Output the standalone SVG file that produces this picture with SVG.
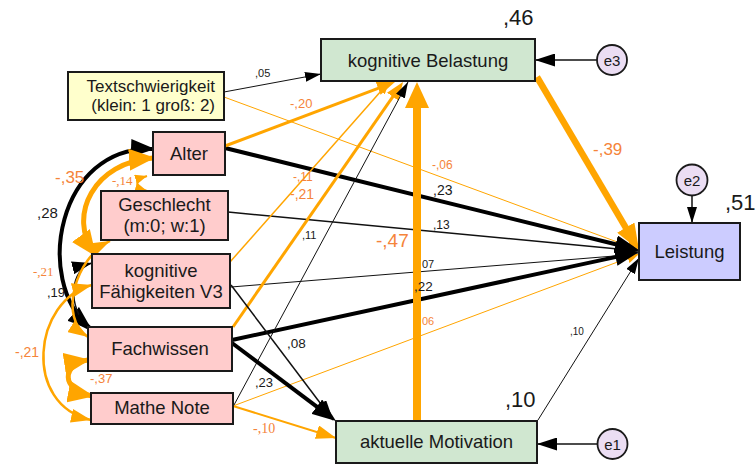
<svg xmlns="http://www.w3.org/2000/svg" width="756" height="466" viewBox="0 0 756 466">
<style>
.box{stroke:#1a1a1a;stroke-width:2}
.pink{fill:#FFCCCC}
.yel{fill:#FFFFCC}
.grn{fill:#D0E7D0}
.blu{fill:#CCCCFF}
.err{fill:#EBDDF3;stroke:#1a1a1a;stroke-width:1.8}
.n{font-family:"Liberation Sans",Arial,sans-serif;font-size:18.5px;fill:#1a1a1a;text-anchor:middle}
.ts{font-family:"Liberation Sans",Arial,sans-serif;font-size:17px;fill:#1a1a1a;text-anchor:end}
.e{font-family:"Liberation Sans",Arial,sans-serif;font-size:15px;fill:#1a1a1a;text-anchor:middle}
.l{font-family:"Liberation Sans",Arial,sans-serif;fill:#1a1a1a}
.lo{font-family:"Liberation Sans",Arial,sans-serif;fill:#F5843A}
.so{font-family:"Liberation Serif","Times New Roman",serif;fill:#F5843A}
.big{font-family:"Liberation Sans",Arial,sans-serif;font-size:22px;fill:#1a1a1a}
#connectors path{fill:none}
.k1{stroke:#111;stroke-width:1}
.k15{stroke:#111;stroke-width:1.5}
.k4{stroke:#000;stroke-width:4}
.o1{stroke:#FFA500;stroke-width:1}
.o15{stroke:#FFA500;stroke-width:1.5}
.o2{stroke:#FFA500;stroke-width:2}
.o25{stroke:#FFA500;stroke-width:2.5}
.o3{stroke:#FFA500;stroke-width:3}
.o4{stroke:#FFA500;stroke-width:4}
.o5{stroke:#FFA500;stroke-width:5}
.o6{stroke:#FFA500;stroke-width:6.5}
.o8{stroke:#FFA500;stroke-width:8}
.hk{fill:#000}
.ho{fill:#FFA500}
</style>
<defs>
<marker id="mBs" markerUnits="userSpaceOnUse" markerWidth="16" markerHeight="10" refX="16" refY="5" orient="auto-start-reverse"><path class="hk" d="M0,0 L16,5 L0,10 z"/></marker>
<marker id="mBm" markerUnits="userSpaceOnUse" markerWidth="20" markerHeight="13" refX="20" refY="6.5" orient="auto-start-reverse"><path class="hk" d="M0,0 L20,6.5 L0,13 z"/></marker>
<marker id="mBl" markerUnits="userSpaceOnUse" markerWidth="24" markerHeight="18" refX="2" refY="9" orient="auto-start-reverse"><path class="hk" d="M0,0 L24,9 L0,18 z"/></marker>
<marker id="mBc" markerUnits="userSpaceOnUse" markerWidth="24" markerHeight="18" refX="22" refY="9" orient="auto-start-reverse"><path class="hk" d="M0,0 L24,9 L0,18 z"/></marker>
<marker id="mOs" markerUnits="userSpaceOnUse" markerWidth="12" markerHeight="10" refX="12" refY="5" orient="auto-start-reverse"><path class="ho" d="M0,0 L12,5 L0,10 z"/></marker>
<marker id="mOm" markerUnits="userSpaceOnUse" markerWidth="20" markerHeight="14" refX="20" refY="7" orient="auto-start-reverse"><path class="ho" d="M0,0 L20,7 L0,14 z"/></marker>
<marker id="mOm2" markerUnits="userSpaceOnUse" markerWidth="18" markerHeight="14" refX="2" refY="7" orient="auto-start-reverse"><path class="ho" d="M0,0 L18,7 L0,14 z"/></marker>
<marker id="mOl" markerUnits="userSpaceOnUse" markerWidth="26" markerHeight="20" refX="2" refY="10" orient="auto-start-reverse"><path class="ho" d="M0,0 L26,10 L0,20 z"/></marker>
<marker id="mOc" markerUnits="userSpaceOnUse" markerWidth="26" markerHeight="22" refX="24" refY="11" orient="auto-start-reverse"><path class="ho" d="M0,0 L26,11 L0,22 z"/></marker>
<marker id="mOx" markerUnits="userSpaceOnUse" markerWidth="26" markerHeight="24" refX="2" refY="12" orient="auto-start-reverse"><path class="ho" d="M0,0 L26,12 L0,24 z"/></marker>
</defs>

<g id="connectors">
<!-- to Leistung -->
<path class="o1" d="M224,97 L639,250" marker-end="url(#mOs)"/>
<path class="k15" d="M228,212 L639,251" marker-end="url(#mBs)"/>
<path class="k1" d="M231,287 L639,254" marker-end="url(#mBs)"/>
<path class="o1" d="M233,406 L639,254" marker-end="url(#mOs)"/>
<path class="k1" d="M538,420 L639,258" marker-end="url(#mBs)"/>
<path class="k4" d="M225,148 L617.6,244.7" marker-end="url(#mBl)"/>
<path class="k4" d="M232,340 L617.5,256.6" marker-end="url(#mBl)"/>
<path class="o6" d="M537,77 L626.8,229.3" marker-end="url(#mOl)"/>
<!-- to kognitive Belastung -->
<path class="k1" d="M224,92 L321,74" marker-end="url(#mBs)"/>
<path class="o15" d="M230,262 L389,82" marker-end="url(#mOs)"/>
<path class="o3" d="M225,146 L380,87.6" marker-end="url(#mOm2)"/>
<path class="o3" d="M233,327 L393.9,95.1" marker-end="url(#mOm2)"/>
<path class="k1" d="M234,405 L408,82" marker-end="url(#mBs)"/>
<path class="o8" d="M417,421 L417,106" marker-end="url(#mOx)"/>
<!-- to aktuelle Motivation -->
<path class="k15" d="M231,285 L333,420" marker-end="url(#mBm)"/>
<path class="k4" d="M232,343 L318.4,407.8" marker-end="url(#mBl)"/>
<path class="o2" d="M233,406 L336,438" marker-end="url(#mOm)"/>
<!-- error terms -->
<path class="k15" d="M597,60 L535,60" marker-end="url(#mBm)"/>
<path class="k15" d="M692,196 L692,223" marker-end="url(#mBs)"/>
<path class="k15" d="M597,444 L537,444" marker-end="url(#mBm)"/>
<!-- covariances -->
<path class="k4" d="M153,149 C58,145 33,280 90,328" marker-start="url(#mBc)" marker-end="url(#mBc)"/>
<path class="o5" d="M153,158 C95,162 66,215 95,255" marker-start="url(#mOc)" marker-end="url(#mOc)"/>
<path class="o2" d="M147,176 C134,180 134,187 147,191" marker-start="url(#mOs)" marker-end="url(#mOs)"/>
<path class="k15" d="M92,263 C72,268 64,305 91,331" marker-start="url(#mBm)" marker-end="url(#mBm)"/>
<path class="o25" d="M110,241 C75,258 58,318 88,337" marker-start="url(#mOm)" marker-end="url(#mOm)"/>
<path class="o25" d="M92,285 C33,300 22,405 91,420" marker-start="url(#mOm)" marker-end="url(#mOm)"/>
<path class="o5" d="M88,360 C62,364 60,390 92,396" marker-start="url(#mOc)" marker-end="url(#mOc)"/>
</g>

<g id="Textschwierigkeit"><rect class="box yel" x="68" y="72" width="156" height="48"/><text class="ts" x="215" y="92">Textschwierigkeit</text><text class="ts" x="215" y="111">(klein: 1 groß: 2)</text></g>
<g id="Alter"><rect class="box pink" x="153" y="132" width="72" height="43"/><text class="n" x="189" y="160">Alter</text></g>
<g id="Geschlecht"><rect class="box pink" x="101" y="191" width="127" height="49"/><text class="n" x="164.5" y="211">Geschlecht</text><text class="n" x="164.5" y="232">(m:0; w:1)</text></g>
<g id="Faehigkeiten"><rect class="box pink" x="92" y="254" width="138" height="54"/><text class="n" x="161" y="277">kognitive</text><text class="n" x="161" y="298">Fähigkeiten V3</text></g>
<g id="Fachwissen"><rect class="box pink" x="88" y="327" width="144" height="44"/><text class="n" x="160" y="355">Fachwissen</text></g>
<g id="MatheNote"><rect class="box pink" x="91" y="393" width="142" height="31"/><text class="n" x="162" y="414">Mathe Note</text></g>
<g id="Belastung"><rect class="box grn" x="321" y="39" width="214" height="42"/><text class="n" x="428" y="67">kognitive Belastung</text></g>
<g id="Leistung"><rect class="box blu" x="639" y="223" width="101" height="57"/><text class="n" x="689.5" y="258">Leistung</text></g>
<g id="Motivation"><rect class="box grn" x="336" y="421" width="201" height="42"/><text class="n" x="436.5" y="448">aktuelle Motivation</text></g>
<g id="e3"><circle class="err" cx="612" cy="60" r="15"/><text class="e" x="612" y="65.5">e3</text></g>
<g id="e2"><circle class="err" cx="692" cy="180" r="15.5"/><text class="e" x="692" y="185.5">e2</text></g>
<g id="e1"><circle class="err" cx="612.5" cy="444" r="15"/><text class="e" x="612.5" y="449.5">e1</text></g>

<g id="labels">
<text class="big" x="503" y="25">,46</text>
<text class="big" x="725" y="210">,51</text>
<text class="big" x="505" y="407">,10</text>
<text class="l" x="255" y="77" font-size="11">,05</text>
<text class="lo" x="290" y="108" font-size="13">-,20</text>
<text class="lo" x="593" y="155" font-size="17">-,39</text>
<text class="lo" x="432" y="169" font-size="12">-,06</text>
<text class="l" x="433" y="195" font-size="14">,23</text>
<text class="l" x="433" y="229" font-size="12">,13</text>
<text class="l" x="422" y="268" font-size="11">07</text>
<text class="l" x="414" y="291" font-size="13.5">,22</text>
<text class="lo" x="422" y="325" font-size="11">06</text>
<text class="lo" x="376" y="247" font-size="19">-,47</text>
<text class="lo" x="293" y="181" font-size="12">-,11</text>
<text class="lo" x="290" y="199" font-size="14">-,21</text>
<text class="l" x="302" y="239" font-size="11">,11</text>
<text class="l" x="287" y="348" font-size="13.5">,08</text>
<text class="l" x="255" y="387" font-size="13">,23</text>
<text class="so" x="253" y="433" font-size="14">-,10</text>
<text class="l" x="570" y="335" font-size="10">,10</text>
<text class="lo" x="55" y="183" font-size="17">-,35</text>
<text class="so" x="112" y="185" font-size="13">-,14</text>
<text class="l" x="37" y="218" font-size="15">,28</text>
<text class="so" x="33" y="276" font-size="13">-,21</text>
<text class="l" x="47" y="297" font-size="13">,19</text>
<text class="lo" x="15" y="357" font-size="14">-,21</text>
<text class="lo" x="90" y="383" font-size="13">-,37</text>
</g>
</svg>
